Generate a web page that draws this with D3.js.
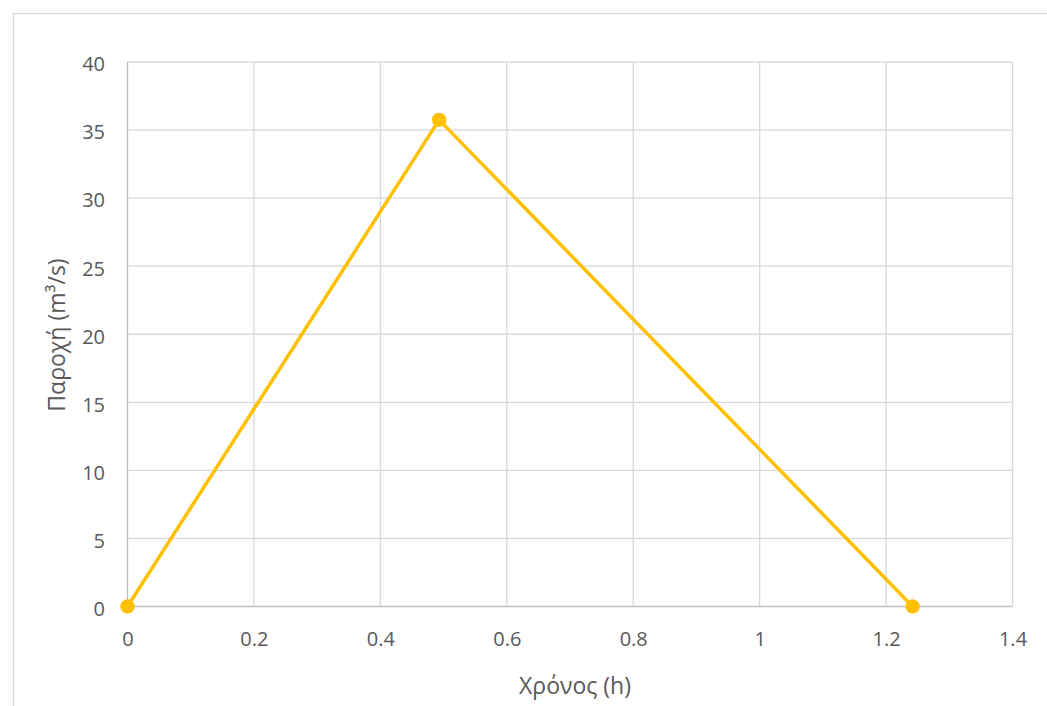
<!DOCTYPE html>
<html>
<head>
<meta charset="utf-8">
<script src="https://cdn.jsdelivr.net/npm/d3@7"></script>
<style>
  html, body { margin: 0; padding: 0; background: #fff; }
  svg { display: block; }
  text { font-family: "Open Sans", "Noto Sans", sans-serif; fill: #595959; }
</style>
</head>
<body>
<svg id="chart" width="1047" height="706"></svg>
<script>
// Data
const timeHours = [0, 0.493, 1.242];
const discharge = [0, 35.75, 0];
const xTicks = [0, 0.2, 0.4, 0.6, 0.8, 1, 1.2, 1.4];
const yTicks = [0, 5, 10, 15, 20, 25, 30, 35, 40];
const xTitle = "Χρόνος (h)";
const yTitle = "Παροχή (m³/s)";

const svg = d3.select("#chart");
const W = 1047, H = 706;
const m = { left: 127.5, right: 1012.5, top: 62, bottom: 606.5 };

// outer frame
svg.append("rect").attr("x", 13.5).attr("y", 13.5)
  .attr("width", W + 20).attr("height", H + 20)
  .attr("fill", "none").attr("stroke", "#d9d9d9").attr("stroke-width", 1.3);

const x = d3.scaleLinear().domain([0, 1.4]).range([m.left, m.right]);
const y = d3.scaleLinear().domain([0, 40]).range([m.bottom, m.top]);

// gridlines
const grid = svg.append("g");
grid.selectAll("line.v").data(xTicks.slice(1)).enter().append("line")
  .attr("x1", d => x(d)).attr("x2", d => x(d))
  .attr("y1", m.top).attr("y2", m.bottom)
  .attr("stroke", "#d9d9d9").attr("stroke-width", 1.3);
grid.selectAll("line.h").data(yTicks.slice(1)).enter().append("line")
  .attr("x1", m.left).attr("x2", m.right)
  .attr("y1", d => y(d)).attr("y2", d => y(d))
  .attr("stroke", "#d9d9d9").attr("stroke-width", 1.3);

// axis lines (Excel style)
svg.append("line").attr("x1", m.left).attr("x2", m.right)
  .attr("y1", m.bottom).attr("y2", m.bottom)
  .attr("stroke", "#bfbfbf").attr("stroke-width", 1.3);
svg.append("line").attr("x1", m.left).attr("x2", m.left)
  .attr("y1", m.top).attr("y2", m.bottom)
  .attr("stroke", "#bfbfbf").attr("stroke-width", 1.3);

// tick labels via d3 axes
const fmt = d => d3.format("~g")(d);
const xAxis = svg.append("g").attr("transform", `translate(0,${m.bottom})`)
  .call(d3.axisBottom(x).tickValues(xTicks).tickFormat(fmt).tickSize(0).tickPadding(0));
xAxis.select(".domain").remove();
xAxis.selectAll("text").attr("dy", null).attr("y", 39.5)
  .style("font-size", "20px").attr("fill", "#595959");

const yAxis = svg.append("g").attr("transform", `translate(${m.left},0)`)
  .call(d3.axisLeft(y).tickValues(yTicks).tickFormat(fmt).tickSize(0).tickPadding(0));
yAxis.select(".domain").remove();
yAxis.selectAll("text").attr("x", -22.5).attr("dy", "0.44em")
  .style("font-size", "20px").attr("fill", "#595959");

// axis titles
svg.append("text").attr("x", 575).attr("y", 694)
  .attr("text-anchor", "middle").style("font-size", "23px").text(xTitle);
svg.append("text").attr("transform", `translate(65,335) rotate(-90)`)
  .attr("text-anchor", "middle").style("font-size", "23px").text(yTitle);

// series
const pts = timeHours.map((t, i) => ({ t, q: discharge[i] }));
svg.append("path").datum(pts)
  .attr("d", d3.line().x(d => x(d.t)).y(d => y(d.q)))
  .attr("fill", "none").attr("stroke", "#FFC000").attr("stroke-width", 3.5)
  .attr("stroke-linejoin", "round");
svg.selectAll("circle.pt").data(pts).enter().append("circle")
  .attr("cx", d => x(d.t)).attr("cy", d => y(d.q)).attr("r", 7.2)
  .attr("fill", "#FFC000");
</script>
</body>
</html>
